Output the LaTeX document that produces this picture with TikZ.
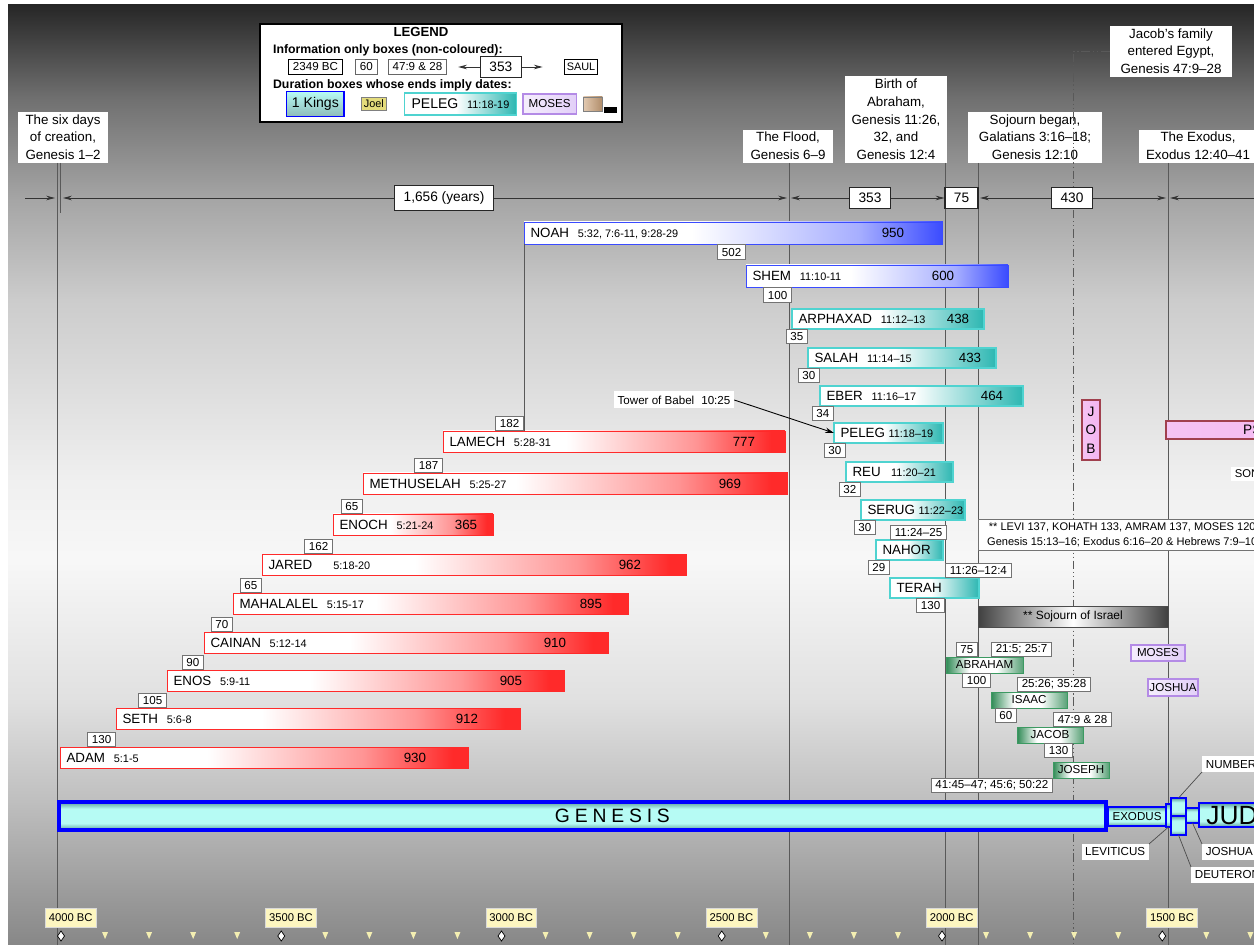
\documentclass[tikz,border=0pt]{standalone}
\usepackage{fontspec}
\setmainfont{Liberation Sans}
\newfontfamily\spacedfont[LetterSpace=25]{Liberation Sans}
\usetikzlibrary{arrows.meta, calc, positioning}

\definecolor{barred}{HTML}{FF2A2A}
\definecolor{barblue}{HTML}{3A4BFF}
\definecolor{cyanedge}{HTML}{4FD3D0}
\definecolor{cyandeep}{HTML}{2DB7B2}
\definecolor{greenedge}{HTML}{3C9A62}
\definecolor{greendeep}{HTML}{2F8A55}
\definecolor{lavfill}{HTML}{E2CFF8}
\definecolor{lavedge}{HTML}{B48BE6}
\definecolor{pinkfill}{HTML}{F3B4F0}
\definecolor{pinkedge}{HTML}{A0404E}
\definecolor{booklight}{HTML}{B6FBF4}
\definecolor{bookdark}{HTML}{5E9E9C}
\definecolor{axisyellow}{HTML}{FDF6C0}
\definecolor{ticky}{HTML}{F4EFB2}
\definecolor{khaki}{HTML}{E4DC7C}
\definecolor{tanfill}{HTML}{CFA57C}
\colorlet{redmid}{barred!50!white}
\colorlet{bluemid}{barblue!45!white}
\colorlet{greenlite}{greendeep!80!white}
\colorlet{sojdark}{black!75}

\pgfdeclarehorizontalshading{redfade}{100bp}{color(0bp)=(white); color(25bp)=(white); color(43bp)=(white); color(62bp)=(redmid); color(73bp)=(barred); color(100bp)=(barred)}
\pgfdeclarehorizontalshading{bluefade}{100bp}{color(0bp)=(white); color(25bp)=(white); color(45bp)=(white); color(65bp)=(bluemid); color(75bp)=(barblue); color(100bp)=(barblue)}
\pgfdeclarehorizontalshading{cyanfade}{100bp}{color(0bp)=(white); color(25bp)=(white); color(48bp)=(white); color(75bp)=(cyandeep); color(100bp)=(cyandeep)}
\pgfdeclarehorizontalshading{greenfade}{100bp}{color(0bp)=(greendeep); color(25bp)=(greendeep); color(40bp)=(white); color(58bp)=(white); color(75bp)=(greenlite); color(100bp)=(greenlite)}
\pgfdeclarehorizontalshading{sojfade}{100bp}{color(0bp)=(sojdark); color(25bp)=(sojdark); color(50bp)=(white); color(75bp)=(sojdark); color(100bp)=(sojdark)}
\pgfdeclareverticalshading{bookfill}{100bp}{color(0bp)=(bookdark); color(25bp)=(bookdark); color(37bp)=(booklight); color(63bp)=(booklight); color(75bp)=(bookdark); color(100bp)=(bookdark)}
\pgfdeclareverticalshading{bgfade}{100bp}{color(0bp)=(black!47); color(25bp)=(black!47); color(32.7bp)=(black!25); color(38bp)=(black!12); color(45.5bp)=(black!3); color(49.7bp)=(black!6); color(59.3bp)=(black!20); color(64.6bp)=(black!35); color(70bp)=(black!56); color(75bp)=(black!85); color(100bp)=(black!85)}

\newcommand{\versref}[1]{{\fontsize{6.2}{7}\selectfont #1}}

\begin{document}
\begin{tikzpicture}[
    x=0.02cm, y=-0.02cm,
    bar/.style={anchor=north west, inner sep=0pt, outer sep=0pt, line width=0.5pt},
    redbar/.style={bar, draw=barred, shade, shading=redfade, minimum height=0.43cm},
    bluebar/.style={bar, draw=barblue, shade, shading=bluefade, minimum height=0.45cm},
    cyanbar/.style={bar, draw=cyanedge, line width=0.7pt, shade, shading=cyanfade, minimum height=0.40cm},
    greenbar/.style={bar, draw=greenedge, shade, shading=greenfade, minimum height=0.32cm, font=\fontsize{6.6}{8}\selectfont},
    purplebar/.style={bar, draw=lavedge, line width=0.8pt, shade, left color=lavfill!35!white, right color=lavfill, minimum height=0.32cm, font=\fontsize{6.6}{8}\selectfont},
    pinkbar/.style={bar, draw=pinkedge, line width=0.7pt, shade, left color=pinkfill!80!white, right color=pinkfill, font=\fontsize{7.8}{10.5}\selectfont, align=center},
    bookbar/.style={bar, draw=blue, line width=0.6pt, shade, shading=bookfill},
    barname/.style={anchor=west, inner xsep=3.5pt, inner ysep=0pt, font=\fontsize{7.6}{9}\selectfont},
    agenum/.style={anchor=center, inner sep=0pt, font=\fontsize{7.6}{9}\selectfont},
    yrtag/.style={draw=black!55, fill=white, line width=0.4pt, font=\fontsize{6.6}{8}\selectfont, inner xsep=2.5pt, inner ysep=1pt, minimum height=0.29cm},
    evlabel/.style={fill=white, align=center, anchor=south, inner xsep=4pt, inner ysep=1.5pt, font=\fontsize{7.6}{10.2}\selectfont},
    evline/.style={draw=black!65, line width=0.5pt},
    dimbox/.style={draw=black!85, fill=white, line width=0.6pt, font=\fontsize{7.8}{9}\selectfont, inner xsep=5pt, minimum height=0.34cm},
    dimarr/.style={-{Stealth[length=5pt, width=2.6pt]}, line width=0.5pt, draw=black!80},
    leader/.style={draw=black!70, line width=0.4pt},
    booklbl/.style={fill=white, font=\fontsize{6.6}{8}\selectfont, inner sep=2pt, minimum height=0.3cm},
    axlbl/.style={fill=axisyellow, draw=black!15, anchor=west, font=\fontsize{6.4}{8}\selectfont, inner xsep=2pt, minimum height=0.32cm},
    lgbold/.style={font=\bfseries\fontsize{7}{8}\selectfont, inner sep=1pt},
    lgtag/.style={draw=black, fill=white, line width=0.6pt, font=\fontsize{6.6}{8}\selectfont, inner xsep=2.5pt, inner ysep=1pt, minimum height=0.29cm}
]
    \path[use as bounding box, clip] (0,0) rectangle (1254,945);

    % background
    \fill[white] (0,0) rectangle (1254,945);
    \shade[shading=bgfade] (8,5) rectangle (1254,945);

    % event positions on the time line
    \coordinate (xcre) at (57,198);
    \coordinate (xcre2) at (60.5,198);
    \coordinate (xflood) at (789,198);
    \coordinate (xabr) at (945,198);
    \coordinate (xsoj) at (978,198);
    \coordinate (xegy) at (1073,198);
    \coordinate (xexo) at (1168,198);
    \coordinate (leftend) at (25,198);
    \coordinate (rightend) at (1254,198);
    \coordinate (bot) at (0,945);

    % event labels
    \node[evlabel] (creation) at (63,163) {The six days\\of creation,\\Genesis 1--2};
    \node[evlabel] (flood) at (788,163) {The Flood,\\Genesis 6--9};
    \node[evlabel] (abrbirth) at (896,163) {Birth of\\Abraham,\\Genesis 11:26,\\32, and\\Genesis 12:4};
    \node[evlabel, inner xsep=6pt] (sojourn) at (1035,163) {Sojourn began,\\Galatians 3:16--18;\\Genesis 12:10};
    \node[evlabel, inner xsep=6pt] (jacobegypt) at (1171,77) {Jacob's family\\entered Egypt,\\Genesis 47:9--28};
    \node[evlabel] (exodus) at (1198,163) {The Exodus,\\Exodus 12:40--41};

    % event lines
    \draw[evline] (xcre |- creation.south) -- (xcre |- bot);
    \draw[evline] (xcre2 |- creation.south) -- ([yshift=-0.3cm]xcre2);
    \draw[evline] (xflood |- flood.south) -- (xflood |- bot);
    \draw[evline] (xabr |- abrbirth.south) -- (xabr |- bot);
    \draw[evline] (xsoj |- sojourn.south) -- (xsoj |- bot);
    \draw[evline] (xexo |- exodus.south) -- (xexo |- bot);
    \draw[evline, dash pattern=on 5pt off 1.5pt on 0.8pt off 1.5pt on 0.8pt off 1.5pt] (jacobegypt.west) -| (xegy |- bot);

    % durations
    \node[dimbox] (d1656) at (444,198) {1,656 (years)};
    \node[dimbox] (d353) at (870,198) {353};
    \node[dimbox, minimum width=0.66cm, inner xsep=0pt] (d75) at (961.5,198) {75};
    \node[dimbox] (d430) at (1072,198) {430};
    \draw[dimarr] (leftend) -- ([xshift=-0.04cm]xcre);
    \draw[dimarr] (d1656.west) -- ([xshift=0.05cm]xcre2);
    \draw[dimarr] (d1656.east) -- ([xshift=-0.04cm]xflood);
    \draw[dimarr] (d353.west) -- ([xshift=0.04cm]xflood);
    \draw[dimarr] (d353.east) -- (d75.west);
    \draw[dimarr] (d430.west) -- ([xshift=0.04cm]xsoj);
    \draw[dimarr] (d430.east) -- ([xshift=-0.04cm]xexo);
    \draw[dimarr] (rightend) -- ([xshift=0.04cm]xexo);

    % legend
    \node[draw, fill=white, line width=0.9pt, anchor=north west, minimum width=7.24cm, minimum height=1.96cm] (legend) at (259,23) {};
    \node[lgbold, font=\bfseries\fontsize{7.5}{8}\selectfont] (lgtitle) at (421,32) {LEGEND};
    \node[lgbold, anchor=west] (lginfo) at (271,50) {Information only boxes (non-coloured):};
    \node[lgtag, anchor=west] (lgbc) at (288,67) {2349 BC};
    \node[lgtag, draw=black!60, right=0.24cm of lgbc] (lgsixty) {60};
    \node[lgtag, draw=black!60, right=0.2cm of lgsixty] (lgverse) {47:9 \& 28};
    \node[dimbox, minimum height=0.32cm, right=0.66cm of lgverse] (lgspan) {353};
    \node[lgtag, inner xsep=1.5pt, font=\fontsize{6.2}{7}\selectfont, right=0.84cm of lgspan] (lgsaul) {SAUL};
    \coordinate (lgl) at ([xshift=-0.44cm]lgspan.west);
    \coordinate (lgr) at ([xshift=0.42cm]lgspan.east);
    \draw[dimarr] (lgspan.west) -- (lgl);
    \draw[dimarr] (lgspan.east) -- (lgr);
    \node[lgbold, anchor=west] (lgdur) at (271,85) {Duration boxes whose ends imply dates:};
    \node[draw=blue, line width=0.8pt, shade, top color=booklight, bottom color=bookdark!70, font=\fontsize{8}{9}\selectfont, minimum height=0.36cm, inner xsep=3pt, anchor=west] (lgkings) at (286,104) {1 Kings};
    \node[draw=black!50, fill=khaki, font=\fontsize{6.2}{7}\selectfont, inner sep=1.5pt, right=0.32cm of lgkings] (lgjoel) {Joel};
    \node[draw=cyanedge, line width=0.8pt, shade, shading=cyanfade, minimum height=0.38cm, inner xsep=4pt, right=0.34cm of lgjoel] (lgpeleg) {\fontsize{8}{9}\selectfont PELEG\hspace{5pt}\versref{11:18-19}};
    \node[draw=lavedge, line width=0.8pt, shade, left color=lavfill!35!white, right color=lavfill, font=\fontsize{6.6}{8}\selectfont, minimum height=0.32cm, right=0.1cm of lgpeleg] (lgmoses) {MOSES};
    \node[draw=black!50, shade, left color=tanfill!60!white, right color=tanfill!85!black, minimum width=0.38cm, minimum height=0.28cm, inner sep=0pt, right=0.12cm of lgmoses] (lgtan) {};
    \node[fill=black, minimum width=0.26cm, minimum height=0.12cm, inner sep=0pt, anchor=south west] (lgblack) at (604,113) {};

    % patriarchs before the flood
    \node[redbar, minimum width=8.18cm, label={[barname]west:{ADAM\hspace{5pt}\versref{5:1-5}}}, label={[agenum, xshift=-1.08cm]east:930}] (adam) at (60,747) {};
    \node[redbar, minimum width=8.10cm, label={[barname]west:{SETH\hspace{5pt}\versref{5:6-8}}}, label={[agenum, xshift=-1.08cm]east:912}] (seth) at (116,708) {};
    \node[redbar, minimum width=7.96cm, label={[barname]west:{ENOS\hspace{5pt}\versref{5:9-11}}}, label={[agenum, xshift=-1.08cm]east:905}] (enos) at (167,670) {};
    \node[redbar, minimum width=8.10cm, label={[barname]west:{CAINAN\hspace{5pt}\versref{5:12-14}}}, label={[agenum, xshift=-1.08cm]east:910}] (cainan) at (204,632) {};
    \node[redbar, minimum width=7.92cm, label={[barname]west:{MAHALALEL\hspace{5pt}\versref{5:15-17}}}, label={[agenum, xshift=-0.76cm]east:895}] (mahalalel) at (233,593) {};
    \node[redbar, minimum width=8.50cm, label={[barname]west:{JARED\hspace{12pt}\versref{5:18-20}}}, label={[agenum, xshift=-1.14cm]east:962}] (jared) at (262,554) {};
    \node[redbar, minimum width=3.20cm, label={[barname]west:{ENOCH\hspace{5pt}\versref{5:21-24}}}, label={[agenum, xshift=-0.54cm]east:365}] (enoch) at (333,514) {};
    \node[redbar, minimum width=8.50cm, label={[barname]west:{METHUSELAH\hspace{5pt}\versref{5:25-27}}}, label={[agenum, xshift=-1.16cm]east:969}] (methuselah) at (363,473) {};
    \node[redbar, minimum width=6.84cm, label={[barname]west:{LAMECH\hspace{5pt}\versref{5:28-31}}}, label={[agenum, xshift=-0.82cm]east:777}] (lamech) at (443,431) {};

    % noah and shem
    \node[bluebar, minimum width=8.38cm, label={[barname]west:{NOAH\hspace{5pt}\versref{5:32, 7:6-11, 9:28-29}}}, label={[agenum, xshift=-1.0cm]east:950}] (noah) at (524,222) {};
    \node[bluebar, minimum width=5.24cm, label={[barname]west:{SHEM\hspace{5pt}\versref{11:10-11}}}, label={[agenum, xshift=-1.30cm]east:600}] (shem) at (746,265) {};
    \draw[evline] (noah.south west) -- (noah.south west |- lamech.north);

    % after the flood
    \node[cyanbar, minimum width=3.84cm, label={[barname]west:{ARPHAXAD\hspace{5pt}\versref{11:12--13}}}, label={[agenum, xshift=-0.52cm]east:438}] (arphaxad) at (792,309) {};
    \node[cyanbar, minimum width=3.76cm, label={[barname]west:{SALAH\hspace{5pt}\versref{11:14--15}}}, label={[agenum, xshift=-0.52cm]east:433}] (salah) at (808,348) {};
    \node[cyanbar, minimum width=4.06cm, label={[barname]west:{EBER\hspace{5pt}\versref{11:16--17}}}, label={[agenum, xshift=-0.62cm]east:464}] (eber) at (820,386) {};
    \node[cyanbar, minimum width=2.18cm, label={[barname]west:{PELEG\hspace{2pt}\versref{11:18--19}}}] (peleg) at (834,423) {};
    \node[cyanbar, minimum width=2.14cm, label={[barname]west:{REU\hspace{6pt}\versref{11:20--21}}}] (reu) at (846,462) {};
    \node[cyanbar, minimum width=2.08cm, label={[barname]west:{SERUG\hspace{2pt}\versref{11:22--23}}}] (serug) at (861,500) {};
    \node[cyanbar, minimum width=1.34cm, label={[barname]west:NAHOR}] (nahor) at (876,540) {};
    \node[cyanbar, minimum width=1.78cm, label={[barname]west:TERAH}] (terah) at (890,578) {};

    % tower of babel
    \node[fill=white, font=\fontsize{6.6}{8}\selectfont, inner sep=2pt, minimum height=0.34cm] (babel) at (674,400) {Tower of Babel\hspace{4pt}10:25};
    \draw[-{Stealth[length=5pt, width=3pt]}, line width=0.5pt] (babel.east) -- (peleg.west);

    % abraham to joseph
    \node[greenbar, minimum width=1.54cm] (abraham) at (946,657) {ABRAHAM};
    \node[greenbar, minimum width=1.52cm] (isaac) at (991,692) {ISAAC};
    \node[greenbar, minimum width=1.32cm] (jacob) at (1017,727) {JACOB};
    \node[greenbar, minimum width=1.12cm] (joseph) at (1053,762) {JOSEPH};
    \node[purplebar, minimum width=1.08cm] (moses) at (1131,645) {MOSES};
    \node[purplebar, minimum width=1.00cm, minimum height=0.34cm] (joshua) at (1148,679) {JOSHUA};
    \node[pinkbar, minimum width=0.36cm, minimum height=1.20cm] (job) at (1082,400) {J\\O\\B};
    \node[pinkbar, minimum width=4.2cm, minimum height=0.36cm] (psalms) at (1166,421) {PSALMS};
    \node[fill=white, anchor=west, inner sep=2pt, font=\fontsize{6.4}{8}\selectfont] (songs) at (1231,474) {SONG OF SOLOMON};

    % sojourn notes
    \node[yrtag, anchor=west, align=center, inner xsep=5pt, inner ysep=2pt, font=\fontsize{6.3}{8.4}\selectfont] (levinote) at (978,534.5) {** LEVI 137, KOHATH 133, AMRAM 137, MOSES 120\\Genesis 15:13--16; Exodus 6:16--20 \& Hebrews 7:9--10};
    \node[bar, draw=black!70, shade, shading=sojfade, minimum width=3.8cm, minimum height=0.42cm, font=\fontsize{6.8}{8}\selectfont] (sojisrael) at (978,606) {** Sojourn of Israel};

    % ages at the births
    \node[yrtag, anchor=south east] (g130) at (seth.west |- adam.north) {130};
    \node[yrtag, anchor=south east] (g105) at (enos.west |- seth.north) {105};
    \node[yrtag, anchor=south east] (g90) at (cainan.west |- enos.north) {90};
    \node[yrtag, anchor=south east] (g70) at (mahalalel.west |- cainan.north) {70};
    \node[yrtag, anchor=south east] (g65a) at (jared.west |- mahalalel.north) {65};
    \node[yrtag, anchor=south east] (g162) at (enoch.west |- jared.north) {162};
    \node[yrtag, anchor=south east] (g65b) at (methuselah.west |- enoch.north) {65};
    \node[yrtag, anchor=south east] (g187) at (lamech.west |- methuselah.north) {187};
    \node[yrtag, anchor=south east] (g182) at (noah.west |- lamech.north) {182};
    \node[yrtag, anchor=north east] (g502) at (shem.west |- noah.south) {502};
    \node[yrtag, anchor=north east] (g100a) at (arphaxad.west |- shem.south) {100};
    \node[yrtag, anchor=north east] (g35) at (salah.west |- arphaxad.south) {35};
    \node[yrtag, anchor=north east] (g30a) at (eber.west |- salah.south) {30};
    \node[yrtag, anchor=north east] (g34) at (peleg.west |- eber.south) {34};
    \node[yrtag, anchor=north east] (g30b) at (reu.west |- peleg.south) {30};
    \node[yrtag, anchor=north east] (g32) at (serug.west |- reu.south) {32};
    \node[yrtag, anchor=north east] (g30c) at (nahor.west |- serug.south) {30};
    \node[yrtag, anchor=north east] (g29) at (terah.west |- nahor.south) {29};
    \node[yrtag, anchor=north east] (g130b) at (xabr |- terah.south) {130};
    \node[yrtag, anchor=south east] (g75) at (xsoj |- abraham.north) {75};
    \node[yrtag, anchor=north east] (g100b) at (isaac.west |- abraham.south) {100};
    \node[yrtag, anchor=north east] (g60) at (jacob.west |- isaac.south) {60};
    \node[yrtag, anchor=north east] (g130c) at (xegy |- jacob.south) {130};

    % verses
    \node[yrtag, anchor=south west] (v2124) at (terah.west |- nahor.north) {11:24--25};
    \node[yrtag, anchor=south west] (v1126) at (xabr |- terah.north) {11:26--12:4};
    \node[yrtag, anchor=south west] (v215) at (isaac.west |- abraham.north) {21:5; 25:7};
    \node[yrtag, anchor=south west] (v2526) at (jacob.west |- isaac.north) {25:26; 35:28};
    \node[yrtag, anchor=south west] (v479) at (joseph.west |- jacob.north) {47:9 \& 28};
    \node[yrtag, anchor=north east] (v4145) at (joseph.south west) {41:45--47; 45:6; 50:22};

    % books
    \node[bookbar, line width=2.3pt, minimum width=20.94cm, minimum height=0.56cm, label={[font=\spacedfont\fontsize{11}{13}\selectfont, xshift=0.6cm]center:GENESIS}] (genesis) at (59,802) {};
    \node[bookbar, minimum width=1.16cm, minimum height=0.38cm, font=\fontsize{6.6}{8}\selectfont] (exodusbk) at (1108,807) {EXODUS};
    \node[bookbar, minimum width=0.10cm, minimum height=0.46cm] (leviticus) at (1166,804) {};
    \node[bookbar, minimum width=0.30cm, minimum height=0.36cm] (numbers) at (1171,798) {};
    \node[bookbar, minimum width=0.30cm, minimum height=0.38cm] (deuteronomy) at (1171,816) {};
    \node[bookbar, minimum width=0.26cm, minimum height=0.30cm] (joshuabk) at (1186,808) {};
    \node[bookbar, line width=0.8pt, minimum width=3cm, minimum height=0.48cm, label={[anchor=west, inner xsep=4pt, font=\fontsize{15}{17}\selectfont]west:JUDGES}] (judges) at (1199,803) {};
    \node[booklbl, anchor=south west] (lbnum) at (1202,772) {NUMBERS};
    \node[booklbl, anchor=north east] (lblev) at (1149,844) {LEVITICUS};
    \node[booklbl, anchor=north west] (lbjosh) at (1202,844) {JOSHUA};
    \node[booklbl, anchor=north west] (lbdeut) at (1191,867) {DEUTERONOMY};
    \draw[leader] (numbers.north) -- (lbnum.south west);
    \draw[leader] (leviticus.south) -- (lblev.north east);
    \draw[leader] (joshuabk.south) -- (lbjosh.north west);
    \draw[leader] (deuteronomy.south) -- (lbdeut.north west);

    % time axis
    \foreach \yr [count=\k from 0] in {4000,3500,3000,2500,2000,1500} {
        \node[axlbl] (ax\yr) at ({61+220.25*\k-16},918) {\yr\ BC};
        \draw[fill=white, line width=0.4pt] ({61+220.25*\k},931) -- ++(3.5,5) -- ++(-3.5,5) -- ++(-3.5,-5) -- cycle;
        \foreach \j in {1,2,3,4}
            \fill[ticky] ({61+220.25*\k+44.05*\j-3},932) -- ++(6,0) -- ++(-3,7) -- cycle;
    }
\end{tikzpicture}
\end{document}
